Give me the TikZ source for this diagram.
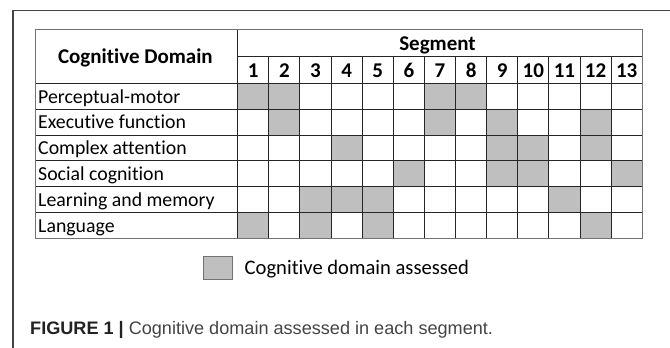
\documentclass[tikz,border=0pt]{standalone}
\usepackage{fontspec}
\setmainfont[Numbers=Lining,RawFeature={-liga}]{Carlito}
\newfontfamily\capfont{Liberation Sans}
\definecolor{cellgray}{HTML}{BFBFBF}
\definecolor{framegray}{HTML}{444444}
\definecolor{capgray}{HTML}{444444}
\definecolor{capdark}{HTML}{222222}
\begin{document}
\begin{tikzpicture}[x=1pt,y=-1pt,
  gridline/.style={line width=0.9pt,black!85},
  outline/.style={line width=1pt,black!55},
  tabtext/.style={font=\fontsize{19.8}{22}\selectfont,inner sep=0pt},
  headtext/.style={font=\fontsize{21}{24}\selectfont\bfseries,inner sep=0pt,anchor=base},
  rowlabel/.style={tabtext,anchor=base west},
  shade/.style={fill=cellgray,draw=none}]
\useasboundingbox (0,0) rectangle (670,348);
% frame
\draw[framegray,line width=1.1pt] (670,10.5) -- (13,10.5) -- (13,348);
% geometry
\def\xl{35}\def\xd{237.7}\def\cw{31.12}
\def\yt{29}\def\ym{56.7}\def\yh{83.3}\def\rh{25.83}
% shaded cells
\foreach \r/\cols in {1/{1,2,7,8},2/{2,7,9,12},3/{4,9,10,12},4/{6,9,10,13},5/{3,4,5,11},6/{1,3,5,12}}{
  \foreach \c in \cols {
    \fill[cellgray] ({\xd+(\c-1)*\cw},{\yh+(\r-1)*\rh}) rectangle ({\xd+\c*\cw},{\yh+\r*\rh});
  }
}
% horizontal lines
\draw[gridline] (\xd,\ym) -- (642.3,\ym);
\draw[gridline,line width=1.4pt] (\xl,\yh) -- (642.3,\yh);
\foreach \r in {1,...,5}{
  \draw[gridline] (\xl,{\yh+\r*\rh}) -- (642.3,{\yh+\r*\rh});
}
% vertical lines
\draw[gridline] (\xd,\yt) -- (\xd,238.3);
\foreach \c in {1,...,12}{
  \draw[gridline] ({\xd+\c*\cw},\ym) -- ({\xd+\c*\cw},238.3);
}
% outline
\draw[outline] (\xl,\yt) rectangle (642.3,238.3);
% headers
\node[headtext] (domhead) at ({(\xl+\xd)/2-1},63.3) {Cognitive Domain};
\node[headtext] (seghead) at ({(\xd+642.3)/2-2.5},50.5) {Segment};
\foreach \c in {1,...,13}{
  \node[headtext] (n\c) at ({\xd+(\c-0.5)*\cw},77.3) {\c};
}
% row labels
\foreach \r/\t in {1/Perceptual-motor,2/Executive function,3/Complex attention,4/Social cognition,5/Learning and memory,6/Language}{
  \node[rowlabel] (row\r) at (38,{\yh+(\r-1)*\rh+19.8}) {\t};
}
% legend
\draw[fill=cellgray,draw=black!55,line width=0.9pt] (203.3,256) rectangle (232.7,279.3);
\node[font=\fontsize{20.6}{23}\selectfont,inner sep=0pt,anchor=base west] (legtext) at (244.5,274) {Cognitive domain assessed};
% caption
\node[anchor=base west,inner sep=0pt,font=\capfont\fontsize{18.1}{20}\selectfont] (caption) at (30,334)
  {\textcolor{capdark}{\bfseries FIGURE 1 |} \textcolor{capgray}{Cognitive domain assessed in each segment.}};
\end{tikzpicture}
\end{document}
